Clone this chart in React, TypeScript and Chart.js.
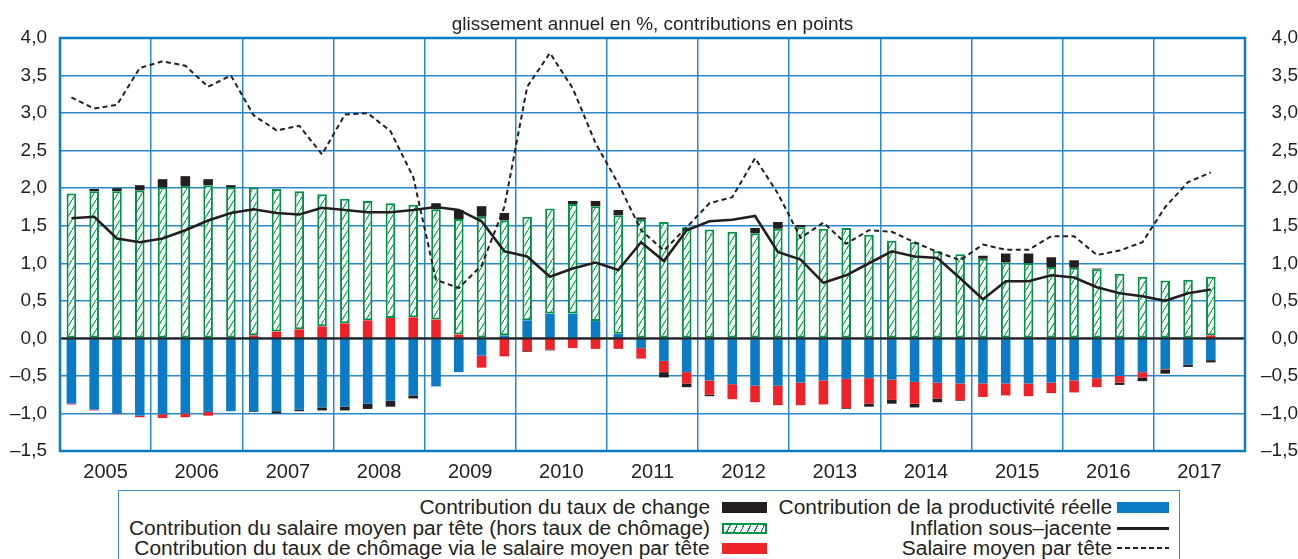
import React, { useEffect, useRef } from "react";
import { Chart, registerables } from "chart.js";

Chart.register(...registerables);

// ---------- data ----------
const YEARS = ["2005", "2006", "2007", "2008", "2009", "2010", "2011", "2012", "2013", "2014", "2015", "2016", "2017"];
const QUARTERS = ["T1", "T2", "T3", "T4"];
const CATEGORIES = YEARS.flatMap((y) => QUARTERS.map((q) => `${y} ${q}`));

const Y_MIN = -1.5;
const Y_MAX = 4.0;
const Y_STEP = 0.5;

// Contribution de la productivité réelle
const productivite = [
  -0.87, -0.95, -1.0, -1.03, -1.01, -1.0, -0.98, -0.97,
  -0.97, -0.97, -0.95, -0.92, -0.91, -0.87, -0.83, -0.76,
  -0.64, -0.45, -0.23, 0.04, 0.24, 0.33, 0.33, 0.23,
  0.06, -0.13, -0.3, -0.45, -0.56, -0.61, -0.63, -0.63,
  -0.59, -0.56, -0.54, -0.53, -0.55, -0.58, -0.59, -0.6,
  -0.6, -0.6, -0.6, -0.59, -0.56, -0.53, -0.5, -0.45,
  -0.41, -0.35, -0.29, null,
];

// Contribution du taux de chômage via le salaire moyen par tête
const chomage = [
  -0.01, -0.01, -0.01, -0.02, -0.05, -0.05, -0.05, 0,
  0.04, 0.09, 0.12, 0.16, 0.2, 0.24, 0.27, 0.28,
  0.25, 0.05, -0.16, -0.24, -0.17, -0.15, -0.13, -0.14,
  -0.14, -0.14, -0.15, -0.15, -0.19, -0.2, -0.22, -0.26,
  -0.3, -0.32, -0.39, -0.34, -0.27, -0.29, -0.21, -0.22,
  -0.18, -0.16, -0.17, -0.14, -0.16, -0.12, -0.09, -0.07,
  -0.01, 0.01, 0.04, null,
];

// Contribution du salaire moyen par tête (hors taux de chômage)
const salaireHorsChomage = [
  1.93, 1.96, 1.96, 1.97, 2.01, 2.03, 2.04, 2.01,
  1.97, 1.9, 1.84, 1.76, 1.66, 1.59, 1.53, 1.5,
  1.47, 1.54, 1.62, 1.53, 1.38, 1.4, 1.46, 1.53,
  1.58, 1.58, 1.55, 1.48, 1.45, 1.42, 1.4, 1.46,
  1.48, 1.46, 1.47, 1.38, 1.3, 1.28, 1.16, 1.12,
  1.06, 1.01, 1.0, 0.95, 0.94, 0.92, 0.86, 0.82,
  0.77, 0.77, 0.78, null,
];

// Contribution du taux de change
const tauxChange = [
  0, 0.03, 0.04, 0.07, 0.11, 0.13, 0.08, 0.03,
  -0.01, -0.03, -0.02, -0.04, -0.05, -0.07, -0.08, -0.04,
  0.08, 0.12, 0.14, 0.1, -0.01, -0.01, 0.04, 0.07,
  0.07, 0.03, -0.07, -0.05, -0.02, 0, 0.07, 0.09,
  0.03, 0, -0.01, -0.04, -0.05, -0.05, -0.05, -0.01,
  0.04, 0.12, 0.13, 0.13, 0.1, 0.01, -0.03, -0.05,
  -0.05, -0.03, -0.03, null,
];

// Inflation sous-jacente
const inflation = [
  1.6, 1.62, 1.33, 1.28, 1.33, 1.44, 1.57, 1.67,
  1.72, 1.67, 1.65, 1.74, 1.71, 1.68, 1.68, 1.71,
  1.75, 1.71, 1.56, 1.16, 1.09, 0.82, 0.93, 1.01,
  0.91, 1.28, 1.03, 1.44, 1.56, 1.58, 1.63, 1.15,
  1.05, 0.74, 0.84, 1.0, 1.16, 1.09, 1.07, 0.8,
  0.52, 0.76, 0.76, 0.84, 0.81, 0.68, 0.6, 0.56,
  0.5, 0.6, 0.65, null,
];

// Salaire moyen par tête
const salaireMoyen = [
  3.21, 3.06, 3.11, 3.6, 3.69, 3.63, 3.35, 3.5,
  2.97, 2.77, 2.83, 2.45, 2.98, 3.0, 2.76, 2.15,
  0.78, 0.67, 0.97, 1.75, 3.35, 3.8, 3.33, 2.6,
  2.06, 1.44, 1.17, 1.48, 1.8, 1.88, 2.4, 1.93,
  1.34, 1.54, 1.26, 1.44, 1.42, 1.28, 1.15, 1.04,
  1.25, 1.18, 1.18, 1.36, 1.36, 1.11, 1.17, 1.28,
  1.75, 2.08, 2.21, null,
];

// ---------- styles ----------
const BLUE = "#0a7bc4";
const GRID = "#2a88cc";
const RED = "#ee2229";
const BLACK = "#231f20";
const GREEN = "#009245";
const FONT = "'Liberation Sans', Arial, Helvetica, sans-serif";

function makeHatch(): CanvasPattern | string {
  const c = document.createElement("canvas");
  c.width = 6;
  c.height = 10;
  const g = c.getContext("2d");
  if (!g) return "#ffffff";
  g.fillStyle = "#ffffff";
  g.fillRect(0, 0, 6, 10);
  g.strokeStyle = GREEN;
  g.lineWidth = 1.1;
  g.beginPath();
  g.moveTo(-0.6, 11);
  g.lineTo(6.6, -1);
  g.stroke();
  const p = g.createPattern(c, "repeat");
  return p || "#ffffff";
}

const framePlugin = {
  id: "frame",
  afterDatasetsDraw(chart: any) {
    const { ctx, chartArea, scales } = chart;
    const y0 = scales.y.getPixelForValue(0);
    ctx.save();
    ctx.strokeStyle = BLACK;
    ctx.lineWidth = 2.2;
    ctx.beginPath();
    ctx.moveTo(chartArea.left, y0);
    ctx.lineTo(chartArea.right, y0);
    ctx.stroke();
    ctx.restore();
  },
  afterDraw(chart: any) {
    const { ctx, chartArea } = chart;
    ctx.save();
    ctx.strokeStyle = BLUE;
    ctx.lineWidth = 2.5;
    ctx.strokeRect(chartArea.left, chartArea.top, chartArea.right - chartArea.left, chartArea.bottom - chartArea.top);
    ctx.restore();
  },
};

const fmt = (v: number) => {
  const s = Math.abs(v).toFixed(1).replace(".", ",");
  return v < -1e-9 ? "\u2013" + s : s;
};

function ChartCanvas() {
  const ref = useRef<HTMLCanvasElement | null>(null);
  useEffect(() => {
    if (!ref.current) return;
    const hatch = makeHatch();
    const barCommon = {
      type: "bar" as const,
      stack: "s",
      barPercentage: 0.42,
      categoryPercentage: 1,
      order: 2,
      yAxisID: "y",
    };
    const chart = new Chart(ref.current, {
      type: "bar",
      data: {
        labels: CATEGORIES,
        datasets: [
          { ...barCommon, label: "Contribution de la productivité réelle", data: productivite, backgroundColor: BLUE, borderWidth: 0 },
          { ...barCommon, label: "Contribution du taux de chômage via le salaire moyen par tête", data: chomage, backgroundColor: RED, borderWidth: 0 },
          {
            ...barCommon,
            label: "Contribution du salaire moyen par tête (hors taux de chômage)",
            data: salaireHorsChomage,
            backgroundColor: hatch as any,
            borderColor: GREEN,
            borderWidth: 2,
            borderSkipped: false,
          },
          { ...barCommon, label: "Contribution du taux de change", data: tauxChange, backgroundColor: BLACK, borderWidth: 0 },
          {
            type: "line",
            label: "Inflation sous-jacente",
            data: inflation,
            borderColor: BLACK,
            borderWidth: 2.6,
            pointRadius: 0,
            tension: 0,
            order: 0,
            yAxisID: "y2",
          },
          {
            type: "line",
            label: "Salaire moyen par tête",
            data: salaireMoyen,
            borderColor: BLACK,
            borderWidth: 2,
            borderDash: [5, 3.5],
            pointRadius: 0,
            tension: 0,
            order: 0,
            yAxisID: "y2",
          },
        ] as any,
      },
      options: {
        animation: false,
        responsive: false,
        maintainAspectRatio: false,
        layout: { padding: { top: 38, left: 0, right: 0, bottom: 0 } },
        plugins: { legend: { display: false }, tooltip: { enabled: false }, title: { display: false } },
        scales: {
          x: {
            type: "category",
            stacked: true,
            offset: true,
            border: { display: false },
            grid: {
              offset: true,
              drawTicks: false,
              lineWidth: 1.5,
              color: (c: any) => (c.index % 4 === 0 ? GRID : "rgba(0,0,0,0)"),
            },
            ticks: {
              autoSkip: false,
              maxRotation: 0,
              minRotation: 0,
              padding: 9,
              color: BLACK,
              font: { family: FONT, size: 20 },
              labelOffset: 11.4,
              callback: (_v: any, i: number) => (i % 4 === 1 ? YEARS[Math.floor(i / 4)] : ""),
            },
            afterFit: (s: any) => {
              s.height = 34;
            },
          },
          y: {
            type: "linear",
            position: "left",
            stacked: true,
            min: Y_MIN,
            max: Y_MAX,
            border: { display: false },
            grid: { drawTicks: false, color: GRID, lineWidth: 1.5 },
            ticks: {
              stepSize: Y_STEP,
              padding: 13,
              color: BLACK,
              font: { family: FONT, size: 19 },
              callback: (v: any) => fmt(Number(v)),
            },
            afterFit: (s: any) => {
              s.width = 60;
            },
          },
          y2: {
            type: "linear",
            position: "right",
            stacked: false,
            min: Y_MIN,
            max: Y_MAX,
            border: { display: false },
            grid: { display: false, drawOnChartArea: false, drawTicks: true, tickLength: 12, tickColor: "rgba(0,0,0,0)" },
            ticks: {
              stepSize: Y_STEP,
              padding: 0,
              crossAlign: "far",
              color: BLACK,
              font: { family: FONT, size: 19 },
              callback: (v: any) => fmt(Number(v)),
            },
            afterFit: (s: any) => {
              s.width = 53;
            },
          },
        },
      } as any,
      plugins: [framePlugin],
    });
    return () => chart.destroy();
  }, []);
  return <canvas ref={ref} width={1298} height={485} style={{ position: "absolute", left: 0, top: 0 }} />;
}

const textStyle: React.CSSProperties = {
  position: "absolute",
  fontFamily: FONT,
  fontSize: 19.5,
  lineHeight: "22px",
  height: 22,
  color: BLACK,
  whiteSpace: "nowrap",
  textAlign: "right",
  transform: "scaleX(1.072)",
  transformOrigin: "right center",
};

function LegendRow(props: { text: string; right: number; cy: number }) {
  return <div style={{ ...textStyle, right: 1298 - props.right, top: props.cy - 11 }}>{props.text}</div>;
}

export default function App() {
  const rows = [507, 528, 548];
  return (
    <div style={{ position: "absolute", left: 0, top: 0, width: 1298, height: 559, overflow: "hidden", background: "#fff" }}>
      <ChartCanvas />
      <div
        style={{
          position: "absolute",
          left: 0,
          width: 1305,
          top: 14,
          textAlign: "center",
          fontFamily: FONT,
          fontSize: 17.5,
          lineHeight: "20px",
          color: BLACK,
          transform: "scaleX(1.083)",
          transformOrigin: "652.5px center",
        }}
      >
        glissement annuel en %, contributions en points
      </div>
      <div
        style={{
          position: "absolute",
          left: 118,
          top: 490,
          width: 1062,
          height: 100,
          border: "1.5px solid #3b8fd0",
          boxSizing: "border-box",
        }}
      />
      <LegendRow text="Contribution du taux de change" right={710} cy={rows[0]} />
      <LegendRow text="Contribution du salaire moyen par tête (hors taux de chômage)" right={710} cy={rows[1]} />
      <LegendRow text="Contribution du taux de chômage via le salaire moyen par tête" right={710} cy={rows[2]} />
      <LegendRow text="Contribution de la productivité réelle" right={1112} cy={rows[0]} />
      <LegendRow text="Inflation sous–jacente" right={1112} cy={rows[1]} />
      <LegendRow text="Salaire moyen par tête" right={1112} cy={rows[2]} />
      <div style={{ position: "absolute", left: 722, top: rows[0] - 5, width: 45, height: 11, background: BLACK }} />
      <div
        style={{
          position: "absolute",
          left: 722,
          top: rows[1] - 5,
          width: 45,
          height: 11,
          boxSizing: "border-box",
          border: `2px solid ${GREEN}`,
          background: `repeating-linear-gradient(115deg, #fff 0 5px, ${GREEN} 5px 6.2px)`,
        }}
      />
      <div style={{ position: "absolute", left: 722, top: rows[2] - 5, width: 45, height: 11, background: RED }} />
      <div style={{ position: "absolute", left: 1117, top: rows[0] - 5, width: 52, height: 11, background: BLUE }} />
      <div style={{ position: "absolute", left: 1117, top: rows[1] - 1, width: 52, height: 2.5, background: BLACK }} />
      <div
        style={{
          position: "absolute",
          left: 1117,
          top: rows[2] - 1,
          width: 52,
          height: 2,
          background: `repeating-linear-gradient(90deg, ${BLACK} 0 5px, transparent 5px 8px)`,
        }}
      />
    </div>
  );
}
